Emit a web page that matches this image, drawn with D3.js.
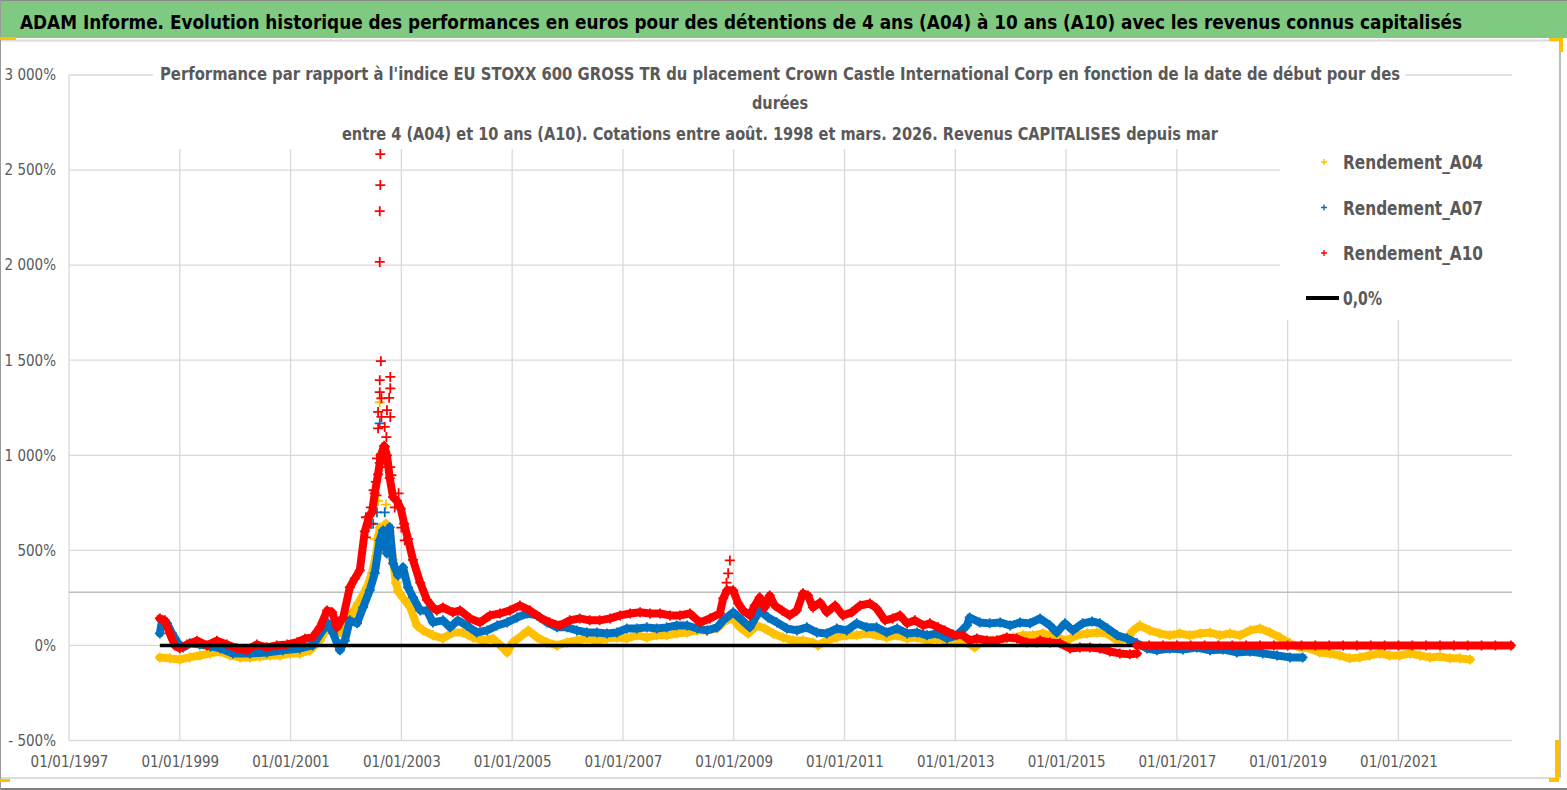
<!DOCTYPE html>
<html>
<head>
<meta charset="utf-8">
<script src="https://cdn.jsdelivr.net/npm/d3@7"></script>
<style>
  body { margin: 0; background: #fff; }
  svg { display: block; }
  text { font-family: "Liberation Sans Narrow", "DejaVu Sans Condensed", "Roboto", sans-serif; }
</style>
</head>
<body>
<svg id="chart" width="1567" height="790"></svg>
<script>
// ---- data (decimal year, % vs index) ----
var xTickYears = [1997, 1999, 2001, 2003, 2005, 2007, 2009, 2011, 2013, 2015, 2017, 2019, 2021];
var yTickValues = [-500, 0, 500, 1000, 1500, 2000, 2500, 3000];
var xDomain = [1997, 2023.05];
var refLineValue = 280;
var zeroLine = [[1998.64, 0], [2016.28, 0]];

var a04 = [[1998.64,-63],[1998.82,-68],[1999.00,-74],[1999.18,-63],[1999.36,-53],[1999.55,-42],[1999.73,-32],[1999.91,-53],
  [2000.09,-63],[2000.27,-63],[2000.45,-58],[2000.63,-53],[2000.81,-53],[2000.99,-42],[2001.17,-42],[2001.35,-26],[2001.53,26],
  [2001.66,95],[2001.80,79],[2001.93,63],[2002.07,147],[2002.22,221],[2002.38,305],[2002.47,380],[2002.54,470],[2002.61,620],
  [2002.67,560],[2002.72,640],[2002.79,600],[2002.85,450],[2002.90,330],[2002.94,285],[2003.03,250],[2003.16,200],[2003.28,105],
  [2003.39,79],[2003.57,53],[2003.75,37],[2003.93,68],[2004.11,68],[2004.29,42],[2004.47,26],[2004.65,37],[2004.83,-11],
  [2004.91,-37],[2005.01,16],[2005.18,53],[2005.29,79],[2005.45,42],[2005.63,16],[2005.81,0],[2005.99,16],[2006.17,26],
  [2006.35,37],[2006.53,26],[2006.71,37],[2006.89,42],[2007.07,37],[2007.25,53],[2007.43,42],[2007.61,53],[2007.79,53],
  [2007.97,63],[2008.16,68],[2008.34,79],[2008.52,79],[2008.70,89],[2008.81,121],[2008.97,147],[2009.11,95],[2009.26,63],
  [2009.42,105],[2009.56,89],[2009.71,63],[2009.89,42],[2010.07,26],[2010.25,26],[2010.43,16],[2010.52,0],[2010.68,26],
  [2010.86,42],[2011.04,53],[2011.22,53],[2011.40,63],[2011.58,53],[2011.76,42],[2011.95,53],[2012.13,37],[2012.31,42],
  [2012.49,26],[2012.67,37],[2012.85,26],[2013.03,16],[2013.21,16],[2013.35,-11],[2013.50,26],[2013.68,26],[2013.86,37],
  [2014.04,42],[2014.22,53],[2014.40,53],[2014.58,63],[2014.83,42],[2015.01,26],[2015.19,53],[2015.38,63],[2015.56,68],
  [2015.74,63],[2015.92,26],[2016.10,37],[2016.21,79],[2016.33,105],[2016.51,79],[2016.69,63],[2016.87,53],[2017.05,63],
  [2017.23,53],[2017.42,63],[2017.60,68],[2017.78,53],[2017.96,63],[2018.14,53],[2018.32,79],[2018.50,89],[2018.68,68],
  [2018.86,42],[2019.04,11],[2019.22,-11],[2019.40,-16],[2019.58,-37],[2019.76,-42],[2019.94,-53],[2020.12,-68],[2020.30,-63],
  [2020.48,-53],[2020.66,-42],[2020.84,-53],[2021.02,-53],[2021.21,-42],[2021.39,-53],[2021.57,-63],[2021.75,-58],[2021.93,-68],
  [2022.11,-68],[2022.29,-74]];
var a04Scatter = [[2002.61,1279],[2002.61,1000],[2002.58,760],[2002.52,560],[2002.72,740]];

var a07 = [[1998.64,63],[1998.68,132],[1998.77,116],[1998.86,63],[1998.97,11],[1999.06,-11],[1999.18,11],[1999.36,5],
  [1999.55,-5],[1999.73,-15],[1999.96,-42],[2000.27,-42],[2000.57,-37],[2000.86,-26],[2001.17,-16],[2001.40,0],[2001.58,79],
  [2001.68,116],[2001.77,63],[2001.89,-26],[2001.98,26],[2002.07,132],[2002.20,116],[2002.31,200],[2002.43,290],[2002.52,380],
  [2002.61,553],[2002.67,605],[2002.74,484],[2002.79,621],[2002.85,432],[2002.94,368],[2003.03,411],[2003.12,305],[2003.21,253],
  [2003.34,184],[2003.46,184],[2003.57,121],[2003.75,132],[2003.88,95],[2004.02,132],[2004.18,105],[2004.36,68],[2004.55,79],
  [2004.73,105],[2004.91,121],[2005.09,147],[2005.27,168],[2005.45,158],[2005.63,121],[2005.81,95],[2005.99,95],[2006.17,79],
  [2006.35,68],[2006.53,68],[2006.71,63],[2006.89,68],[2007.07,89],[2007.25,89],[2007.43,95],[2007.61,89],[2007.79,95],
  [2007.97,105],[2008.16,105],[2008.34,89],[2008.52,79],[2008.70,95],[2008.81,132],[2008.99,174],[2009.15,132],[2009.29,95],
  [2009.47,184],[2009.62,147],[2009.78,121],[2009.96,89],[2010.14,79],[2010.32,95],[2010.50,68],[2010.68,63],[2010.86,89],
  [2011.04,79],[2011.22,116],[2011.40,95],[2011.58,95],[2011.76,68],[2011.95,89],[2012.13,63],[2012.31,68],[2012.49,53],
  [2012.67,63],[2012.85,37],[2013.03,53],[2013.21,105],[2013.26,147],[2013.44,121],[2013.62,116],[2013.81,121],[2013.99,105],
  [2014.17,121],[2014.35,116],[2014.53,142],[2014.71,105],[2014.83,68],[2014.98,116],[2015.12,79],[2015.30,116],[2015.47,126],
  [2015.61,116],[2015.75,89],[2015.92,53],[2016.10,37],[2016.28,11],[2016.46,-16],[2016.64,-26],[2016.87,-16],[2017.11,-21],
  [2017.36,-11],[2017.60,-26],[2017.83,-21],[2018.08,-37],[2018.32,-32],[2018.55,-42],[2018.81,-53],[2019.04,-63],[2019.27,-63]];
var a07Scatter = [[2002.61,1168],[2002.61,960],[2002.56,700],[2002.49,640],[2002.70,700]];

var a10 = [[1998.64,142],[1998.73,132],[1998.82,63],[1998.91,0],[1999.00,-15],[1999.13,5],[1999.31,25],[1999.49,0],
  [1999.67,25],[1999.85,5],[2000.03,-15],[2000.21,-25],[2000.39,5],[2000.57,-10],[2000.75,0],[2000.94,5],[2001.12,17],
  [2001.26,35],[2001.40,44],[2001.53,95],[2001.66,184],[2001.75,175],[2001.84,95],[2001.95,148],[2002.07,306],[2002.16,352],
  [2002.25,395],[2002.34,600],[2002.42,680],[2002.47,700],[2002.52,800],[2002.58,900],[2002.63,1000],[2002.69,1050],
  [2002.74,1000],[2002.79,880],[2002.85,780],[2002.92,760],[2002.99,720],[2003.05,640],[2003.12,560],[2003.21,450],
  [2003.34,330],[2003.46,240],[2003.57,200],[2003.64,184],[2003.75,200],[2003.93,174],[2004.06,184],[2004.24,142],
  [2004.42,121],[2004.60,158],[2004.78,168],[2004.96,184],[2005.14,210],[2005.32,184],[2005.50,147],[2005.68,121],
  [2005.86,105],[2006.04,132],[2006.22,142],[2006.40,132],[2006.58,132],[2006.77,142],[2006.95,158],[2007.13,168],
  [2007.31,174],[2007.49,168],[2007.67,168],[2007.85,158],[2008.03,158],[2008.21,168],[2008.39,121],[2008.57,142],
  [2008.75,168],[2008.81,247],[2008.88,290],[2008.99,290],[2009.08,221],[2009.17,184],[2009.29,158],[2009.38,210],
  [2009.47,253],[2009.56,200],[2009.65,263],[2009.74,210],[2009.87,184],[2010.01,158],[2010.14,184],[2010.25,274],
  [2010.34,263],[2010.43,200],[2010.56,226],[2010.68,174],[2010.83,210],[2010.97,158],[2011.13,174],[2011.28,210],
  [2011.46,221],[2011.58,195],[2011.73,132],[2011.87,142],[2012.00,158],[2012.13,116],[2012.27,132],[2012.42,105],
  [2012.54,116],[2012.69,95],[2012.81,79],[2012.96,58],[2013.14,53],[2013.26,26],[2013.39,37],[2013.57,26],[2013.75,26],
  [2013.93,42],[2014.11,37],[2014.29,16],[2014.47,16],[2014.53,26],[2014.71,16],[2014.89,11],[2015.07,-16],[2015.25,-11],
  [2015.43,-11],[2015.61,-16],[2015.79,-32],[2015.97,-42],[2016.15,-47],[2016.28,-42]];
var a10Tail = [[2016.28,0],[2016.50,0],[2016.75,0],[2017.00,0],[2017.25,0],[2017.50,0],[2017.75,0],[2018.00,0],[2018.25,0],
  [2018.50,0],[2018.75,0],[2019.00,0],[2019.25,0],[2019.50,0],[2019.75,0],[2020.00,0],[2020.25,0],[2020.50,0],[2020.75,0],
  [2021.00,0],[2021.25,0],[2021.50,0],[2021.75,0],[2022.00,0],[2022.25,0],[2022.50,0],[2022.75,0],[2023.03,0]];
var a10Scatter = [[2002.62,2584],[2002.62,2421],[2002.61,2284],[2002.61,2017],[2002.63,1495],[2002.61,1395],[2002.80,1412],
  [2002.80,1352],[2002.61,1332],[2002.64,1300],[2002.78,1302],[2002.58,1228],[2002.74,1237],[2002.64,1202],[2002.80,1202],
  [2002.58,1142],[2002.70,1149],[2002.73,1096],[2002.70,1044],[2002.56,984],[2002.66,974],[2002.73,938],[2002.80,938],
  [2002.82,895],[2002.54,860],[2002.50,816],[2002.55,789],[2002.45,726],[2002.45,640],[2002.36,674],[2002.36,568],
  [2002.88,726],[2002.95,800],[2003.00,620],[2003.06,553],[2008.90,379],[2008.93,447],[2008.87,330]];

var seriesNames = ["Rendement_A04", "Rendement_A07", "Rendement_A10"];
var seriesColors = ["#FFC000", "#0070C0", "#FF0000"];

// ---- layout ----
var svg = d3.select("#chart");
var W = 1567, H = 790;
var plot = {left: 69, right: 1512, top: 75, bottom: 740.5};

var x = d3.scaleLinear().domain(xDomain).range([plot.left, plot.right]);
var y = d3.scaleLinear().domain([-500, 3000]).range([plot.bottom, plot.top]);

// frame and header
svg.append("rect").attr("width", W).attr("height", H).attr("fill", "#fff");
svg.append("rect").attr("x", 0).attr("y", 0).attr("width", W).attr("height", 38).attr("fill", "#80c980");
svg.append("line").attr("x1", 0).attr("x2", W).attr("y1", 0.5).attr("y2", 0.5).attr("stroke", "#8a8a8a");
svg.append("line").attr("x1", 0).attr("x2", 1560).attr("y1", 40.5).attr("y2", 40.5).attr("stroke", "#dcdcdc").attr("stroke-width", 2);
svg.append("line").attr("x1", 1560).attr("x2", 1560).attr("y1", 41).attr("y2", 778).attr("stroke", "#a6a6a6").attr("stroke-width", 1.5);
svg.append("line").attr("x1", 0).attr("x2", 1560).attr("y1", 778).attr("y2", 778).attr("stroke", "#dcdcdc").attr("stroke-width", 2);
svg.append("line").attr("x1", 0).attr("x2", W).attr("y1", 789).attr("y2", 789).attr("stroke", "#7f7f7f").attr("stroke-width", 2);
svg.append("line").attr("x1", 0.5).attr("x2", 0.5).attr("y1", 0).attr("y2", H).attr("stroke", "#9a9a9a");

// excel selection handles
var handles = svg.append("g").attr("fill", "#FFC000");
handles.append("rect").attr("x", 0).attr("y", 37).attr("width", 16).attr("height", 3);
handles.append("rect").attr("x", 1549).attr("y", 38).attr("width", 14).attr("height", 3);
handles.append("rect").attr("x", 1560).attr("y", 38).attr("width", 3).attr("height", 14);
handles.append("rect").attr("x", 0).attr("y", 779).attr("width", 10).attr("height", 3);
handles.append("rect").attr("x", 1555).attr("y", 740).attr("width", 4).attr("height", 42);
handles.append("rect").attr("x", 1549).attr("y", 778).attr("width", 10).attr("height", 4);

svg.append("text")
    .attr("x", 20).attr("y", 29)
    .attr("textLength", 1442).attr("lengthAdjust", "spacingAndGlyphs")
    .attr("font-size", 20).attr("font-weight", "bold").attr("fill", "#000")
    .text("ADAM Informe. Evolution historique des performances en euros pour des détentions de 4 ans (A04) à 10 ans (A10) avec les revenus connus capitalisés");

// gridlines
var grid = svg.append("g").attr("stroke", "#d9d9d9").attr("stroke-width", 1.3);
grid.selectAll("line.h").data(yTickValues).enter().append("line")
    .attr("x1", plot.left).attr("x2", plot.right)
    .attr("y1", function(d) { return y(d); }).attr("y2", function(d) { return y(d); });
grid.selectAll("line.v").data(xTickYears).enter().append("line")
    .attr("x1", function(d) { return x(d); }).attr("x2", function(d) { return x(d); })
    .attr("y1", plot.top).attr("y2", plot.bottom);

svg.append("line")
    .attr("x1", plot.left).attr("x2", plot.right)
    .attr("y1", y(refLineValue)).attr("y2", y(refLineValue))
    .attr("stroke", "#bfbfbf").attr("stroke-width", 1.5);

// axes labels
var pct = function(v) {
    var s = d3.format(",")(Math.abs(v)).replace(",", " ") + "%";
    return v < 0 ? "- " + s : s;
};
var yAxis = svg.append("g").attr("transform", "translate(56,0)")
    .call(d3.axisLeft(y).tickValues(yTickValues).tickSize(0).tickPadding(0).tickFormat(pct));
var xAxis = svg.append("g").attr("transform", "translate(0," + (plot.bottom + 12) + ")")
    .call(d3.axisBottom(x).tickValues(xTickYears).tickSize(0).tickPadding(4)
        .tickFormat(function(d) { return "01/01/" + d; }));
[yAxis, xAxis].forEach(function(a) {
    a.select(".domain").remove();
    a.selectAll("text").attr("fill", "#595959").attr("font-size", 15)
        .attr("font-family", "\"Liberation Sans Narrow\", \"DejaVu Sans Condensed\", sans-serif");
});

// series
var line = d3.line().x(function(d) { return x(d[0]); }).y(function(d) { return y(d[1]); });
var plus = "M-5,0H5M0,-5V5";

function drawSeries(band, scatter, color) {
    var g = svg.append("g");
    g.append("path").datum(band).attr("d", line)
        .attr("fill", "none").attr("stroke", color).attr("stroke-width", 8)
        .attr("stroke-linejoin", "round").attr("stroke-linecap", "round");
    g.selectAll("path.m").data(band.concat(scatter)).enter().append("path")
        .attr("class", "m")
        .attr("d", plus)
        .attr("transform", function(d) { return "translate(" + x(d[0]) + "," + y(d[1]) + ")"; })
        .attr("stroke", color).attr("stroke-width", 1.8).attr("fill", "none");
}
drawSeries(a04, a04Scatter, seriesColors[0]);
drawSeries(a07, a07Scatter, seriesColors[1]);
drawSeries(a10, a10Scatter, seriesColors[2]);

svg.append("path").datum(zeroLine).attr("d", line)
    .attr("stroke", "#000").attr("stroke-width", 3.5).attr("fill", "none");

drawSeries(a10Tail, [], seriesColors[2]);

// chart title
svg.append("rect").attr("x", 153).attr("y", 60).attr("width", 1252).attr("height", 89).attr("fill", "#fff");
var titleLines = [
    {t: "Performance par rapport à l'indice EU STOXX 600 GROSS TR  du placement Crown Castle International Corp en fonction de la date de début pour des", y: 80, w: 1240},
    {t: "durées", y: 109, w: 56},
    {t: "entre 4 (A04) et 10 ans (A10). Cotations entre août. 1998 et mars. 2026. Revenus CAPITALISES depuis mar", y: 140, w: 876}
];
svg.selectAll("text.title").data(titleLines).enter().append("text")
    .attr("class", "title")
    .attr("x", 780).attr("y", function(d) { return d.y; })
    .attr("text-anchor", "middle")
    .attr("textLength", function(d) { return d.w; }).attr("lengthAdjust", "spacingAndGlyphs")
    .attr("font-size", 17.5).attr("font-weight", "bold").attr("fill", "#595959")
    .text(function(d) { return d.t; });

// legend
svg.append("rect").attr("x", 1280).attr("y", 142).attr("width", 232).attr("height", 178).attr("fill", "#fff");
var legend = svg.selectAll("g.leg").data(seriesNames).enter().append("g")
    .attr("transform", function(d, i) { return "translate(0," + (162 + i * 45.5) + ")"; });
legend.append("path").attr("d", "M-3,0H3M0,-3V3")
    .attr("transform", "translate(1324,0)")
    .attr("stroke", function(d, i) { return seriesColors[i]; }).attr("stroke-width", 1.4);
legend.append("text").attr("x", 1343).attr("y", 7)
    .attr("textLength", 140).attr("lengthAdjust", "spacingAndGlyphs")
    .attr("font-size", 19).attr("font-weight", "bold").attr("fill", "#595959")
    .text(function(d) { return d; });
svg.append("line").attr("x1", 1306).attr("x2", 1339).attr("y1", 298).attr("y2", 298)
    .attr("stroke", "#000").attr("stroke-width", 4);
svg.append("text").attr("x", 1343).attr("y", 305)
    .attr("textLength", 39).attr("lengthAdjust", "spacingAndGlyphs")
    .attr("font-size", 19).attr("font-weight", "bold").attr("fill", "#595959")
    .text("0,0%");
</script>
</body>
</html>
